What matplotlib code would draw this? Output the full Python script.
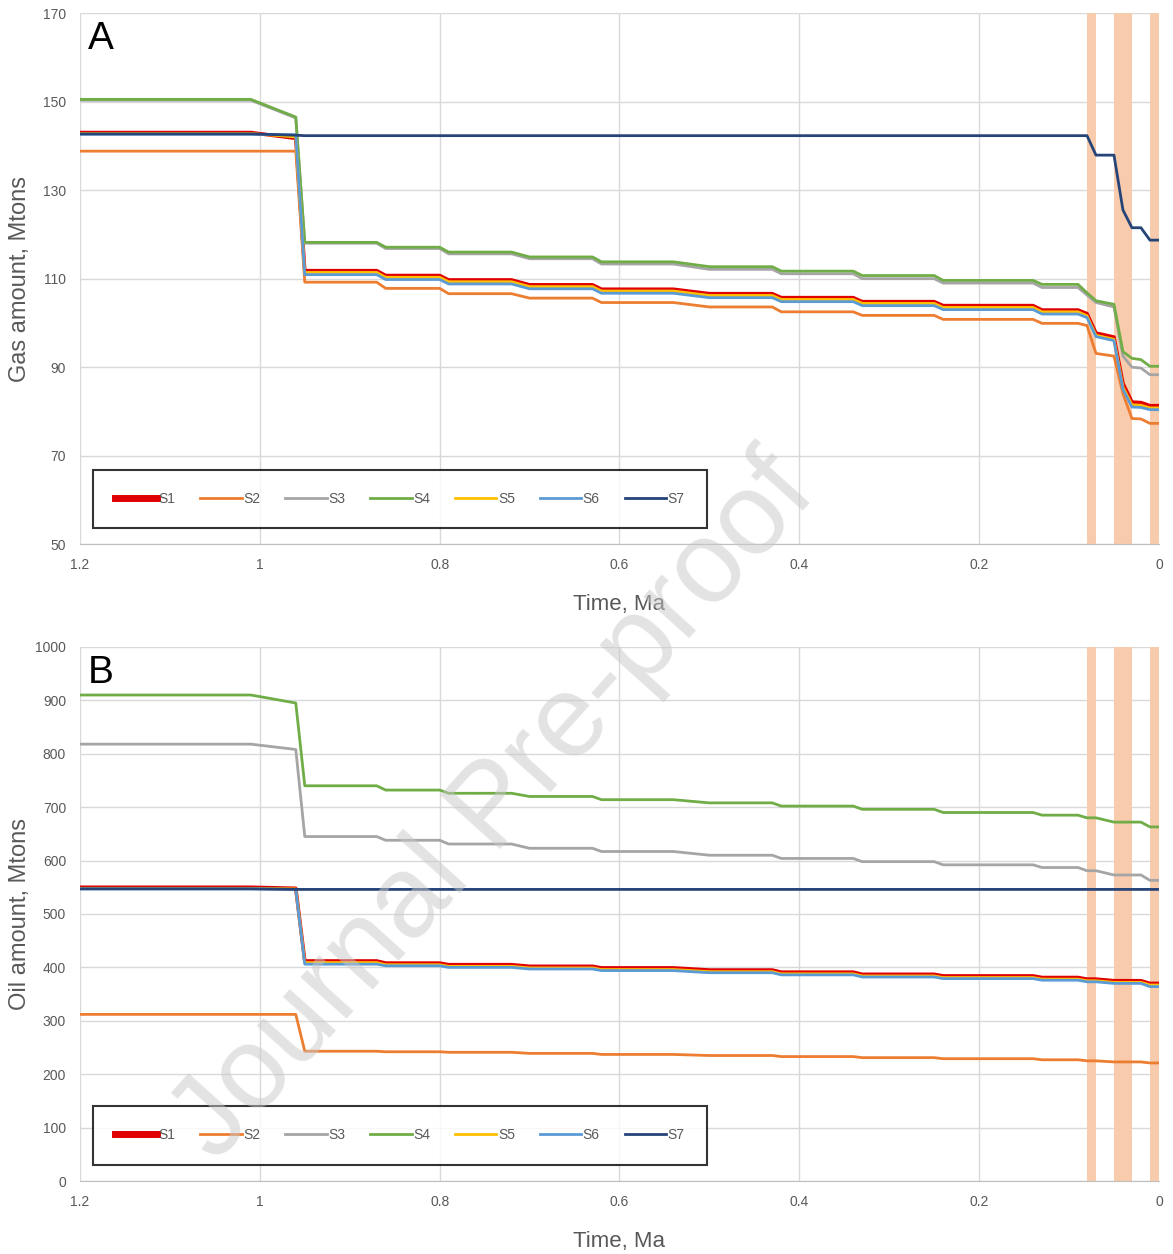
import numpy as np
import matplotlib
matplotlib.use("Agg")
import matplotlib.pyplot as plt

plt.rcParams['font.family'] = ['Liberation Sans', 'DejaVu Sans']

# time points, Ma
t = [1.2, 1.01, 0.96, 0.95, 0.87, 0.86, 0.80, 0.79, 0.72, 0.70, 0.63, 0.62, 0.54, 0.50, 0.43, 0.42,
     0.34, 0.33, 0.25, 0.24, 0.14, 0.13, 0.09, 0.08, 0.07, 0.05, 0.04, 0.03, 0.02, 0.01, 0.0]

# gas amount, Mtons
gas_s1 = [143.0, 143.0, 141.7, 111.8, 111.8, 110.7, 110.7, 109.7, 109.7, 108.6, 108.6, 107.6, 107.6, 106.6, 106.6, 105.7,
          105.7, 104.8, 104.8, 103.9, 103.9, 102.9, 102.9, 102.1, 97.7, 96.8, 86.3, 82.1, 82.0, 81.3, 81.3]
gas_s2 = [138.8, 138.8, 138.8, 109.2, 109.2, 107.8, 107.8, 106.6, 106.6, 105.6, 105.6, 104.6, 104.6, 103.6, 103.6, 102.5,
          102.5, 101.7, 101.7, 100.8, 100.8, 99.9, 99.9, 99.4, 93.1, 92.5, 84.0, 78.4, 78.3, 77.3, 77.3]
gas_s3 = [150.3, 150.3, 146.3, 118.0, 118.0, 116.8, 116.8, 115.6, 115.6, 114.5, 114.5, 113.3, 113.3, 112.1, 112.1, 111.1,
          111.1, 110.0, 110.0, 109.0, 109.0, 108.0, 108.0, 106.3, 104.6, 103.6, 92.5, 90.0, 89.8, 88.3, 88.3]
gas_s4 = [150.5, 150.5, 146.5, 118.2, 118.2, 117.1, 117.1, 116.0, 116.0, 114.9, 114.9, 113.8, 113.8, 112.7, 112.7, 111.7,
          111.7, 110.7, 110.7, 109.6, 109.6, 108.7, 108.7, 106.8, 105.0, 104.2, 93.5, 92.0, 91.7, 90.2, 90.2]
gas_s5 = [142.8, 142.8, 142.0, 111.4, 111.4, 110.3, 110.3, 109.3, 109.3, 108.2, 108.2, 107.2, 107.2, 106.2, 106.2, 105.3,
          105.3, 104.4, 104.4, 103.5, 103.5, 102.5, 102.5, 101.6, 97.2, 96.3, 85.5, 81.5, 81.4, 80.8, 80.8]
gas_s6 = [142.6, 142.6, 142.5, 110.9, 110.9, 109.8, 109.8, 108.8, 108.8, 107.7, 107.7, 106.7, 106.7, 105.7, 105.7, 104.8,
          104.8, 103.9, 103.9, 103.0, 103.0, 102.0, 102.0, 101.2, 96.9, 96.0, 85.0, 81.0, 80.9, 80.4, 80.4]
gas_s7 = [142.7, 142.7, 142.4, 142.3, 142.3, 142.3, 142.3, 142.3, 142.3, 142.3, 142.3, 142.3, 142.3, 142.3, 142.3, 142.3,
          142.3, 142.3, 142.3, 142.3, 142.3, 142.3, 142.3, 142.3, 137.9, 137.9, 125.5, 121.5, 121.5, 118.7, 118.7]

# oil amount, Mtons
oil_s1 = [550, 550, 548, 412, 412, 408, 408, 405, 405, 402, 402, 399, 399, 395, 395, 391,
          391, 387, 387, 384, 384, 381, 381, 378, 378, 375, 375, 375, 375, 370, 370]
oil_s2 = [312, 312, 312, 243, 243, 242, 242, 241, 241, 239, 239, 237, 237, 235, 235, 233,
          233, 231, 231, 229, 229, 227, 227, 225, 225, 223, 223, 223, 223, 221, 221]
oil_s3 = [818, 818, 808, 645, 645, 638, 638, 631, 631, 623, 623, 617, 617, 610, 610, 604,
          604, 598, 598, 592, 592, 587, 587, 581, 581, 573, 573, 573, 573, 563, 563]
oil_s4 = [910, 910, 895, 740, 740, 732, 732, 726, 726, 720, 720, 714, 714, 708, 708, 702,
          702, 696, 696, 690, 690, 685, 685, 680, 680, 672, 672, 672, 672, 663, 663]
oil_s5 = [548, 548, 547, 409, 409, 405, 405, 402, 402, 399, 399, 396, 396, 392, 392, 388,
          388, 384, 384, 381, 381, 378, 378, 375, 375, 372, 372, 372, 372, 367, 367]
oil_s6 = [547, 547, 546, 406, 406, 403, 403, 400, 400, 397, 397, 394, 394, 390, 390, 386,
          386, 382, 382, 379, 379, 376, 376, 373, 373, 370, 370, 370, 370, 364, 364]
oil_s7 = [547, 547, 546, 546, 546, 546, 546, 546, 546, 546, 546, 546, 546, 546, 546, 546,
          546, 546, 546, 546, 546, 546, 546, 546, 546, 546, 546, 546, 546, 546, 546]

names = ['S1', 'S2', 'S3', 'S4', 'S5', 'S6', 'S7']
colors = ['#E00000', '#ED7D31', '#A5A5A5', '#70AD47', '#FFC000', '#5B9BD5', '#264478']

# shaded intervals (Ma)
bands = [(0.07, 0.08), (0.03, 0.05), (0.0, 0.01)]

xticks = [1.2, 1.0, 0.8, 0.6, 0.4, 0.2, 0.0]
xticklabels = ['1.2', '1', '0.8', '0.6', '0.4', '0.2', '0']

fig = plt.figure(figsize=(11.73, 12.54), dpi=100)
axA = fig.add_axes([0.0682, 0.566, 0.9198, 0.4236])
axB = fig.add_axes([0.0682, 0.0582, 0.9198, 0.4259])


def draw_panel(ax, series, yticks, ylabel, letter):
    for a, b in bands:
        ax.axvspan(a, b, color='#F8CBAD', lw=0, zorder=1)
    for i, (y, c, n) in enumerate(zip(series, colors, names)):
        lw = 2.6 if n == 'S1' else 2.0
        ax.plot(t, y, color=c, lw=lw, label=n, zorder=3 + i)
    ax.set_xlim(1.2, 0)
    ax.set_ylim(yticks[0], yticks[-1])
    ax.set_xticks(xticks)
    ax.set_xticklabels(xticklabels)
    ax.set_yticks(yticks)
    ax.grid(True, color='#D9D9D9', lw=1.0, zorder=0)
    ax.set_axisbelow(True)
    for s in ['top', 'right', 'left']:
        ax.spines[s].set_visible(False)
    ax.spines['bottom'].set_color('#BFBFBF')
    ax.tick_params(length=0, labelsize=10, colors='#595959', pad=10)
    ax.set_xlabel('Time, Ma', fontsize=16, color='#595959', labelpad=16)
    ax.set_ylabel(ylabel, fontsize=17, color='#595959')
    ax.yaxis.set_label_coords(-0.045, 0.5)
    ax.text(0.007, 0.985, letter, transform=ax.transAxes, fontsize=28, va='top', ha='left')
    leg = ax.legend(ncol=7, loc='center', bbox_to_anchor=(0.012, 0.030, 0.569, 0.111),
                    mode='expand', fontsize=10, handlelength=3, handletextpad=0.1,
                    borderaxespad=0, frameon=True, fancybox=False, borderpad=1.6,
                    labelcolor='#595959')
    leg.get_frame().set_edgecolor('black')
    leg.get_frame().set_linewidth(1.5)
    leg.legend_handles[0].set_linewidth(5)
    leg.set_zorder(20)


draw_panel(axA, [gas_s1, gas_s2, gas_s3, gas_s4, gas_s5, gas_s6, gas_s7],
           [50, 70, 90, 110, 130, 150, 170], 'Gas amount, Mtons', 'A')
draw_panel(axB, [oil_s1, oil_s2, oil_s3, oil_s4, oil_s5, oil_s6, oil_s7],
           list(range(0, 1001, 100)), 'Oil amount, Mtons', 'B')

# watermark
fig.text(0.422, 0.355, 'Journal Pre-proof', fontsize=84, color='#C8C8C8', alpha=0.5,
         rotation=48, ha='center', va='center', zorder=50)

fig.savefig('out.png', dpi=100)
